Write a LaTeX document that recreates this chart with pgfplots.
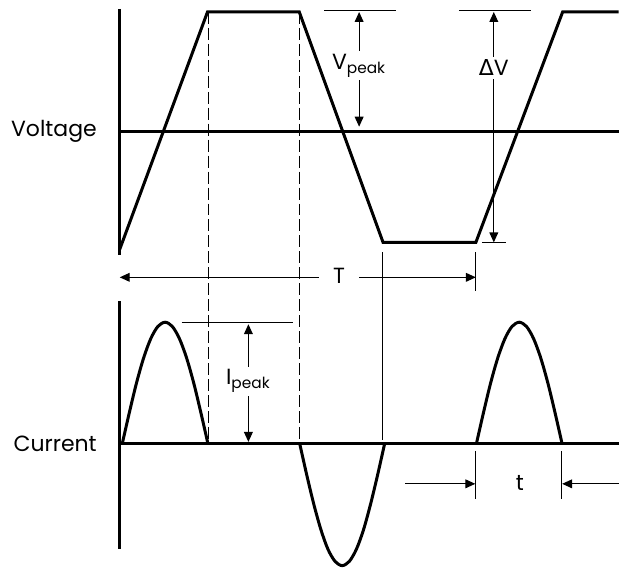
\documentclass[border=0pt]{standalone}
\usepackage{pgfplots}
\pgfplotsset{compat=1.18}
\usetikzlibrary{arrows.meta}
\usepackage{fontspec}
\setmainfont{Poppins}
\newfontfamily\symfont{DejaVu Sans}

% 1 reference pixel = 0.5pt; y runs downwards as in the picture
\tikzset{
  dim/.style={line width=0.6pt, {Triangle[length=5pt,width=4.4pt]}-{Triangle[length=5pt,width=4.4pt]}},
  oneway/.style={line width=0.6pt, -{Triangle[length=5pt,width=4.4pt]}},
  thin ref/.style={line width=0.5pt},
  lbl/.style={fill=white, inner sep=1.5pt, font=\fontsize{11}{13}\selectfont},
}

\begin{document}
\begin{tikzpicture}
\begin{axis}[
  scale only axis, width=310pt, height=285.5pt,
  xmin=0, xmax=620, ymin=0, ymax=571, y dir=reverse,
  hide axis, clip=false,
]
\path (axis cs:0,0) rectangle (axis cs:620,571);

% axes of the two traces
\addplot[black, line width=1.5pt] coordinates {(120,9) (120,256)};
\addplot[black, line width=1.5pt] coordinates {(120,132) (620,132)};
\addplot[black, line width=1.5pt] coordinates {(120,302) (120,550)};
\addplot[black, line width=1.5pt] coordinates {(120,445) (620,445)};

% dashed guides
\addplot[black, line width=0.5pt, dash pattern=on 6pt off 2pt] coordinates {(208.5,12) (208.5,445)};
\addplot[black, line width=0.5pt, dash pattern=on 6pt off 2pt] coordinates {(300.5,12) (300.5,445)};

% voltage trace
\addplot[black, line width=1.5pt, line join=miter] coordinates {
  (120,250) (208,12) (300,12) (384,243) (477,243) (564,12) (620,12)
};

% current trace
\addplot[black, line width=1.5pt, smooth] coordinates {
  (122.5,445) (129.7,413.4) (136.8,384) (144,358.7) (151.2,339.3) (158.3,327.2)
  (165.5,323) (172.7,327.2) (179.8,339.3) (187,358.7) (194.2,384) (201.3,413.4) (208.5,445)
};
\addplot[black, line width=1.5pt, smooth] coordinates {
  (300.5,445) (307.6,476.6) (314.7,506) (321.8,531.3) (328.8,550.7) (335.9,562.8)
  (343,567) (350.1,562.8) (357.2,550.7) (364.3,531.3) (371.3,506) (378.4,476.6) (385.5,445)
};
\addplot[black, line width=1.5pt, smooth] coordinates {
  (477.5,445) (484.7,413.4) (491.8,384) (499,358.7) (506.2,339.3) (513.3,327.2)
  (520.5,323) (527.7,327.2) (534.8,339.3) (542,358.7) (549.2,384) (556.3,413.4) (563.5,445)
};

% reference ticks
\draw[thin ref] (axis cs:325,11) -- (axis cs:397,11);
\draw[thin ref] (axis cs:460,11) -- (axis cs:532,11);
\draw[thin ref] (axis cs:483,243) -- (axis cs:507,243);
\draw[thin ref] (axis cs:182,323) -- (axis cs:294,323);
\draw[thin ref] (axis cs:477,253) -- (axis cs:477,292);
\draw[thin ref] (axis cs:477,452) -- (axis cs:477,500);
\draw[thin ref] (axis cs:563,452) -- (axis cs:563,500);

% dimension arrows
\draw[dim] (axis cs:360,12) -- (axis cs:360,127);
\node[lbl] at (axis cs:360,66) {V\textsubscript{peak}};
\draw[dim] (axis cs:495,12) -- (axis cs:495,243);
\node[lbl] at (axis cs:495,68) {{\symfont Δ}V};
\draw[dim] (axis cs:249,325) -- (axis cs:249,443);
\node[lbl] at (axis cs:249,382) {I\textsubscript{peak}};
\draw[dim] (axis cs:120,278) -- (axis cs:477,278);
\node[lbl, inner xsep=7pt] at (axis cs:340,277) {T};
\draw[thin ref] (axis cs:383.5,253) -- (axis cs:383.5,441);
\draw[oneway] (axis cs:406,485) -- (axis cs:476.5,485);
\draw[oneway] (axis cs:620,485) -- (axis cs:563.5,485);
\node[font=\fontsize{11}{13}\selectfont] at (axis cs:521,484) {t};

% trace names
\node[anchor=east, font=\fontsize{11}{13}\selectfont] at (axis cs:104,132) {Voltage};
\node[anchor=east, font=\fontsize{11}{13}\selectfont] at (axis cs:104,445) {Current};
\end{axis}
\end{tikzpicture}
\end{document}
